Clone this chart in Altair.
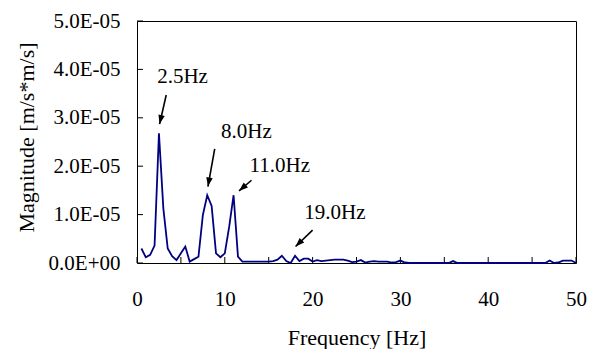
import altair as alt
import pandas as pd

SCALE = 1e-5  # magnitudes below are in units of 1E-05 m/s*m/s

freq = [0.5, 1.0, 1.5, 2.0, 2.5, 3.0, 3.5, 4.0, 4.5, 5.0,
        5.5, 6.0, 6.5, 7.0, 7.5, 8.0, 8.5, 9.0, 9.5, 10.0,
        10.5, 11.0, 11.5, 12.0, 12.5, 13.0, 13.5, 14.0, 14.5, 15.0,
        15.5, 16.0, 16.5, 17.0, 17.5, 18.0, 18.5, 19.0, 19.5, 20.0,
        20.5, 21.0, 21.5, 22.0, 22.5, 23.0, 23.5, 24.0, 24.5, 25.0,
        25.5, 26.0, 26.5, 27.0, 27.5, 28.0, 28.5, 29.0, 29.5, 30.0,
        30.5, 31.0, 31.5, 32.0, 32.5, 33.0, 33.5, 34.0, 34.5, 35.0,
        35.5, 36.0, 36.5, 37.0, 37.5, 38.0, 38.5, 39.0, 39.5, 40.0,
        40.5, 41.0, 41.5, 42.0, 42.5, 43.0, 43.5, 44.0, 44.5, 45.0,
        45.5, 46.0, 46.5, 47.0, 47.5, 48.0, 48.5, 49.0, 49.5, 50.0]

mag = [0.30, 0.12, 0.17, 0.36, 2.68, 1.13, 0.30, 0.14, 0.06, 0.20,
       0.34, 0.03, 0.08, 0.13, 0.99, 1.40, 1.18, 0.20, 0.12, 0.20,
       0.75, 1.40, 0.13, 0.03, 0.03, 0.03, 0.03, 0.03, 0.03, 0.03,
       0.04, 0.07, 0.15, 0.04, 0.00, 0.15, 0.04, 0.09, 0.09, 0.03,
       0.06, 0.04, 0.05, 0.06, 0.07, 0.07, 0.07, 0.05, 0.02, 0.03,
       0.06, 0.01, 0.03, 0.04, 0.03, 0.03, 0.03, 0.01, 0.02, 0.05,
       0.01, 0.00, 0.00, 0.00, 0.00, 0.00, 0.00, 0.00, 0.00, 0.00,
       0.00, 0.04, 0.00, 0.00, 0.00, 0.00, 0.00, 0.00, 0.00, 0.00,
       0.00, 0.00, 0.00, 0.00, 0.00, 0.00, 0.00, 0.00, 0.00, 0.00,
       0.00, 0.00, 0.00, 0.05, 0.00, 0.01, 0.05, 0.05, 0.05, 0.00]

x_ticks_major = [0, 10, 20, 30, 40, 50]
x_ticks_minor = [0, 5, 10, 15, 20, 25, 30, 35, 40, 45, 50]
y_ticks = [0, 1e-5, 2e-5, 3e-5, 4e-5, 5e-5]

# annotations (label position and arrow start -> tip), in data units (y in 1E-05)
ann_label = ["2.5Hz", "8.0Hz", "11.0Hz", "19.0Hz"]
ann_lx = [5.19, 12.47, 16.27, 22.55]
ann_ly = [3.72, 2.58, 1.88, 0.91]
arr_x0 = [3.33, 8.85, 13.04, 20.0]
arr_y0 = [3.47, 2.36, 1.71, 0.68]
arr_x1 = [2.57, 8.08, 11.62, 18.06]
arr_y1 = [2.87, 1.58, 1.49, 0.34]
arr_angle = [193, 190, 229, 225]

FONT = "'Liberation Serif', 'Times New Roman', Times, serif"

df = pd.DataFrame({"f": freq, "m": [v * SCALE for v in mag]})
ann = pd.DataFrame({
    "label": ann_label,
    "lx": ann_lx, "ly": [v * SCALE for v in ann_ly],
    "x0": arr_x0, "y0": [v * SCALE for v in arr_y0],
    "x1": arr_x1, "y1": [v * SCALE for v in arr_y1],
    "angle": arr_angle,
})

xscale = alt.Scale(domain=[0, 50], nice=False, zero=False)
yscale = alt.Scale(domain=[0, 5e-5], nice=False)

xaxis = alt.Axis(values=x_ticks_major, labelFlush=False, labelBaseline="alphabetic",
                 labelPadding=42, labelOverlap=False, title="Frequency [Hz]",
                 titleX=219.5, titleY=81, titleBaseline="alphabetic", titleAlign="center")
yaxis = alt.Axis(values=y_ticks, labelPadding=17, labelOverlap=False,
                 labelExpr="datum.value == 0 ? '0.0E+00' : format(datum.value * 100000, '.1f') + 'E-05'",
                 title="Magnitude [m/s*m/s]", titleX=-104, titleY=116, titleAngle=270,
                 titleBaseline="alphabetic", titleAlign="center")

line = alt.Chart(df).mark_line(color="#000080", strokeWidth=1.8).encode(
    x=alt.X("f:Q", scale=xscale, axis=xaxis),
    y=alt.Y("m:Q", scale=yscale, axis=yaxis),
)

xt = alt.Chart(pd.DataFrame({"t": x_ticks_minor})).mark_rule(color="black", strokeWidth=1).encode(
    x=alt.X("t:Q", scale=xscale), y=alt.value(242), y2=alt.value(236))
yt = alt.Chart(pd.DataFrame({"t": y_ticks})).mark_rule(color="black", strokeWidth=1).encode(
    y=alt.Y("t:Q", scale=yscale), x=alt.value(0), x2=alt.value(6))

labels = alt.Chart(ann).mark_text(font=FONT, fontSize=21, align="center",
                                  baseline="alphabetic", color="black").encode(
    x=alt.X("lx:Q", scale=xscale), y=alt.Y("ly:Q", scale=yscale), text="label:N")

shafts = alt.Chart(ann).mark_rule(color="black", strokeWidth=1.6).encode(
    x=alt.X("x0:Q", scale=xscale), y=alt.Y("y0:Q", scale=yscale),
    x2="x1:Q", y2="y1:Q")

heads = alt.Chart(ann).mark_point(shape="M0,0L-0.36,1L0.36,1Z", filled=True,
                                  size=324, color="black", opacity=1).encode(
    x=alt.X("x1:Q", scale=xscale), y=alt.Y("y1:Q", scale=yscale),
    angle=alt.Angle("angle:Q", scale=None))

chart = alt.layer(xt, yt, line, shafts, heads, labels).properties(
    width=439, height=242,
    autosize=alt.AutoSizeParams(type="none"),
    padding={"left": 129, "top": 13, "right": 11, "bottom": 92},
).configure_view(stroke="black", strokeWidth=1).configure_axis(
    grid=False, domain=False, ticks=False, tickSize=0,
    labelFont=FONT, labelFontSize=21, labelColor="black",
    titleFont=FONT, titleFontSize=22, titleFontWeight="normal", titleColor="black",
)

chart.save("out.html", embed_options={"renderer": "svg", "actions": False})
